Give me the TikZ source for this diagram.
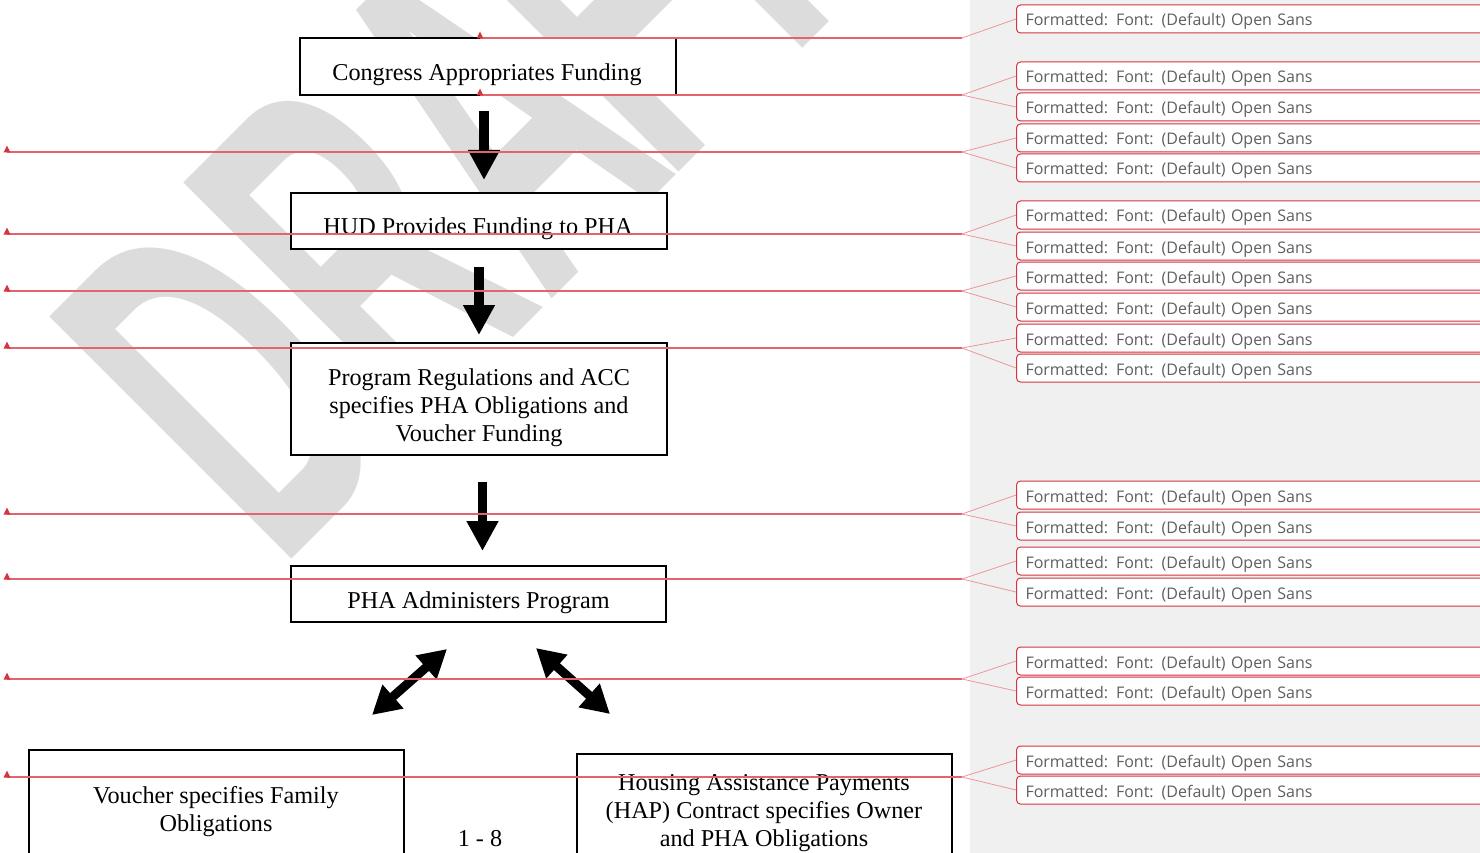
\documentclass[tikz,border=0pt]{standalone}
\usepackage{fontspec}
\usepackage{graphicx}
\setmainfont{Liberation Serif}
\newfontfamily\balfont{Open Sans}
\newfontfamily\wmfont{Liberation Sans}
\usetikzlibrary{arrows.meta,calc}
\definecolor{trk}{RGB}{214,52,64}
\definecolor{trkl}{RGB}{226,100,108}
\definecolor{fan}{RGB}{236,150,156}
\definecolor{wmgray}{RGB}{220,220,220}
\definecolor{panel}{RGB}{240,240,240}
\definecolor{baltext}{RGB}{95,95,95}
\begin{document}
\begin{tikzpicture}[x=1pt,y=-1pt,
 box/.style={draw=black, line width=1.3pt, fill=white, inner sep=0pt},
 txt/.style={font=\fontsize{24.2}{28}\selectfont, align=center, inner sep=0pt, anchor=base},
 blockarrow/.style={line width=9.5pt, -{Triangle[length=30pt,width=30pt]}},
 dblarrow/.style={line width=9pt, {Triangle[length=28pt,width=30pt]}-{Triangle[length=28pt,width=30pt]}},
 trkline/.style={draw=trkl, line width=1.2pt},
 fanline/.style={draw=fan, line width=0.8pt},
 balloon/.style={draw=trk, line width=1pt, fill=white, rounded corners=4pt, minimum height=28pt, text width=470pt, text height=14pt, text depth=0pt, inner xsep=9pt, inner ysep=0pt, align=left, anchor=west, text=baltext, font=\balfont\fontsize{16}{18}\selectfont},
]
\path[use as bounding box] (0,0) rectangle (1480,853);
\clip (0,0) rectangle (1480,853);
\fill[white] (0,0) rectangle (1480,853);
\fill[panel] (970,0) rectangle (1480,853);

% watermark
\node[rotate=45, anchor=base west, inner sep=0pt, text=wmgray, font=\wmfont\bfseries\fontsize{262}{262}\selectfont] (wmk) at (279.6,571.4) {\scalebox{1}[1.9]{DRA\kern-21pt F\kern-29pt T}};

% boxes
\node[box, minimum width=376pt, minimum height=57pt] (b1) at (488,66.5) {};
\node[box, minimum width=376pt, minimum height=56pt] (b2) at (479,221) {};
\node[box, minimum width=376pt, minimum height=112pt] (b3) at (479,399) {};
\node[box, minimum width=375pt, minimum height=56pt] (b4) at (478.5,594) {};
\node[box, minimum width=375pt, minimum height=120pt] (b5) at (216.5,810) {};
\node[box, minimum width=375pt, minimum height=120pt] (b6) at (764.5,814) {};

\node[txt] (t1) at (487,81) {Congress Appropriates Funding};
\node[txt] (t2) at (478,234) {HUD Provides Funding to PHA};
\node[txt] (t3) at (479,441) {Program Regulations and ACC\\specifies PHA Obligations and\\Voucher Funding};
\node[txt] (t4) at (478.5,608) {PHA Administers Program};
\node[txt] (t5) at (216,831) {Voucher specifies Family\\Obligations};
\node[txt] (t6) at (764,846) {Housing Assistance Payments\\(HAP) Contract specifies Owner\\and PHA Obligations};
\node[txt] (pg) at (480,846) {1 - 8};

% arrows
\coordinate (a1s) at (484,111); \coordinate (a1e) at (484,180);
\coordinate (a2s) at (479,267); \coordinate (a2e) at (479,335);
\coordinate (a3s) at (482.5,482); \coordinate (a3e) at (482.5,551);
\coordinate (d1a) at (372,715); \coordinate (d1b) at (447,649);
\coordinate (d2a) at (536,648); \coordinate (d2b) at (610,714);
\draw[blockarrow] (a1s) -- (a1e);
\draw[blockarrow] (a2s) -- (a2e);
\draw[blockarrow] (a3s) -- (a3e);
\draw[dblarrow] (d1a) -- (d1b);
\draw[dblarrow] (d2a) -- (d2b);

% tracked-change lines
\foreach \i/\xs/\y in {1/480/38, 2/480/95, 3/7/152, 4/7/234, 5/7/291, 6/7/348, 7/7/514, 8/7/579, 9/7/679, 10/7/777} {
  \coordinate (gs\i) at (\xs,\y);
  \coordinate (gc\i) at (962,\y);
  \draw[trkline] (gs\i) -- (gc\i);
  \fill[trk] ($(gs\i)+(0,-6.5)$) -- ++(3.4,7) -- ++(-6.8,0) -- cycle;
}

% balloons
\foreach \j/\c in {1/19, 2/76, 3/107, 4/138, 5/168, 6/215, 7/246, 8/276, 9/307, 10/338, 11/368, 12/495, 13/526, 14/561, 15/592, 16/661, 17/691, 18/760, 19/790} {
  \node[balloon] (bal\j) at (1016,\c) {Formatted: Font: (Default) Open Sans};
}

\foreach \g/\p in {1/1, 2/2, 2/3, 3/4, 3/5, 4/6, 4/7, 5/8, 5/9, 6/10, 6/11, 7/12, 7/13, 8/14, 8/15, 9/16, 9/17, 10/18, 10/19} {
  \draw[fanline] (gc\g) -- (bal\p.west);
}
\end{tikzpicture}
\end{document}
